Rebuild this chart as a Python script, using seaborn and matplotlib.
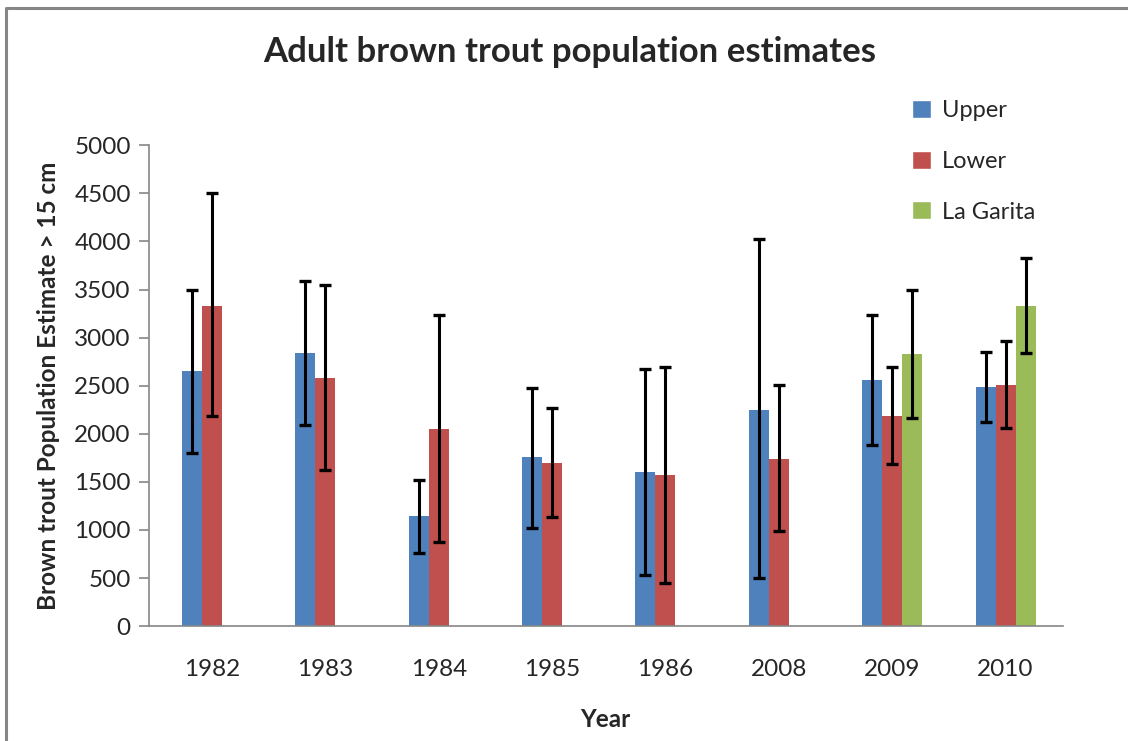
import matplotlib
matplotlib.use('Agg')
import matplotlib.pyplot as plt
import numpy as np
import pandas as pd
import seaborn as sns
from matplotlib.lines import Line2D
from matplotlib.patches import Patch

# values
years = ['1982', '1983', '1984', '1985', '1986', '2008', '2009', '2010']
series = ['Upper', 'Lower', 'La Garita']
colors = ['#4F81BD', '#C0504D', '#9BBB59']

upper = [2650, 2840, 1140, 1760, 1600, 2250, 2560, 2490]
upper_lo = [1800, 2090, 760, 1020, 530, 500, 1880, 2120]
upper_hi = [3500, 3590, 1520, 2480, 2670, 4020, 3240, 2850]

lower = [3330, 2580, 2050, 1700, 1570, 1740, 2180, 2510]
lower_lo = [2180, 1620, 870, 1130, 450, 990, 1690, 2060]
lower_hi = [4500, 3550, 3230, 2270, 2690, 2510, 2690, 2960]

garita = [np.nan, np.nan, np.nan, np.nan, np.nan, np.nan, 2830, 3330]
garita_lo = [np.nan, np.nan, np.nan, np.nan, np.nan, np.nan, 2160, 2840]
garita_hi = [np.nan, np.nan, np.nan, np.nan, np.nan, np.nan, 3500, 3830]

rows = []
for name, vals, los, his in [('Upper', upper, upper_lo, upper_hi),
                             ('Lower', lower, lower_lo, lower_hi),
                             ('La Garita', garita, garita_lo, garita_hi)]:
    for yr, v, lo, hi in zip(years, vals, los, his):
        rows.append({'Year': yr, 'site': name, 'est': v, 'lo': lo, 'hi': hi})
df = pd.DataFrame(rows)

sns.set_theme(style='white')
plt.rcParams['font.family'] = ['Lato', 'DejaVu Sans']

fig = plt.figure(figsize=(11.28, 7.41), dpi=100)
ax = fig.add_axes([0.132, 0.155, 0.81, 0.649])

sns.barplot(data=df.dropna(subset=['est']), x='Year', y='est', hue='site',
            order=years, hue_order=series, palette=colors, width=0.53,
            errorbar=None, saturation=1, linewidth=0, ax=ax, legend=False)

# asymmetric error bars at each bar's centre
for cont, name in zip(ax.containers, series):
    sub = df[(df.site == name)].dropna(subset=['est'])
    for bar, (_, r) in zip(cont, sub.iterrows()):
        xc = bar.get_x() + bar.get_width() / 2
        ax.errorbar(xc, r.est, yerr=[[r.est - r.lo], [r.hi - r.est]],
                    fmt='none', ecolor='black', elinewidth=2.2,
                    capsize=4.6, capthick=2.4)

ax.set_ylim(0, 5000)
ax.set_xlim(-0.556, len(years) - 0.497)
ax.set_yticks(np.arange(0, 5001, 500))
for s in ['top', 'right']:
    ax.spines[s].set_visible(False)
for s in ['left', 'bottom']:
    ax.spines[s].set_color('#868686')
    ax.spines[s].set_linewidth(1.2)
ax.tick_params(axis='y', length=7, color='#868686', width=1.2, labelsize=17.5,
               pad=6, left=True)
ax.tick_params(axis='x', length=0, labelsize=17.5, pad=24)

ax.set_xlabel('Year', fontsize=17.5, fontweight='bold', labelpad=20)
ax.set_ylabel('Brown trout Population Estimate > 15 cm', fontsize=17.5,
              fontweight='bold', labelpad=10)
fig.suptitle('Adult brown trout population estimates', x=0.505, y=0.952,
             fontsize=25, fontweight='bold')

handles = [Patch(facecolor=c, label=n) for c, n in zip(colors, series)]
fig.legend(handles=handles, loc='upper left', bbox_to_anchor=(0.79, 0.894),
           frameon=False, fontsize=17, handlelength=0.8, handleheight=0.8,
           handletextpad=0.45, labelspacing=1.25)

# chart frame (top and left edges visible)
fig.add_artist(Line2D([6 / 1128, 6 / 1128, 1], [0, 1 - 8 / 741, 1 - 8 / 741],
                      transform=fig.transFigure, color='#868686', lw=2.2))

fig.savefig('out.png', dpi=100)
